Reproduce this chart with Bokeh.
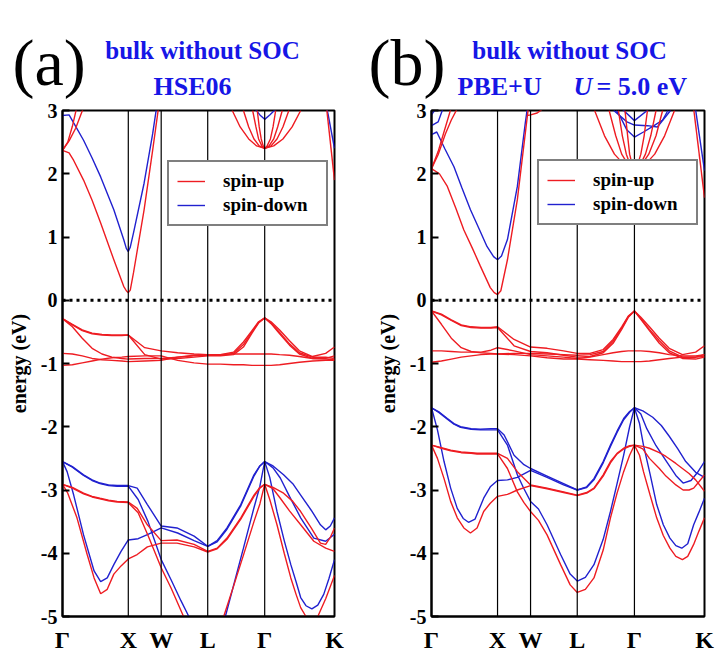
from bokeh.plotting import figure
from bokeh.layouts import row, column
from bokeh.models import Span, Legend, LegendItem, FixedTicker
from bokeh.core.properties import value
from bokeh.embed import file_html
from bokeh.resources import INLINE

# ---------------- data ----------------
PATH_K = [0.0, 1.0, 1.5, 2.207, 3.073, 4.134]
PATH_LABELS = ["Γ", "X", "W", "L", "Γ", "K"]
E_TICKS = [-5, -4, -3, -2, -1, 0, 1, 2, 3]

# common k grid for the flat d bands
K_D = [0.0, 0.15, 0.3, 0.45, 0.6, 0.75, 0.9, 1.0, 1.25, 1.5, 1.75, 2.0, 2.207,
       2.4, 2.6, 2.75, 2.88, 2.98, 3.073, 3.17, 3.3, 3.45, 3.6, 3.8, 4.0, 4.134]

# panel (a) HSE06, spin-up d bands
A_D1 = [-0.29, -0.38, -0.47, -0.52, -0.54, -0.55, -0.55, -0.55, -0.75, -0.80, -0.83, -0.85, -0.86,
        -0.86, -0.82, -0.66, -0.48, -0.34, -0.28, -0.34, -0.47, -0.64, -0.80, -0.89, -0.84, -0.74]
A_D2 = [-0.29, -0.42, -0.60, -0.76, -0.85, -0.90, -0.92, -0.93, -0.92, -0.92, -0.90, -0.88, -0.87,
        -0.87, -0.84, -0.70, -0.50, -0.35, -0.28, -0.37, -0.53, -0.71, -0.85, -0.92, -0.92, -0.88]
A_D3 = [-0.29, -0.39, -0.48, -0.53, -0.55, -0.56, -0.56, -0.55, -0.86, -0.93, -0.92, -0.90, -0.88,
        -0.88, -0.86, -0.74, -0.52, -0.36, -0.28, -0.36, -0.51, -0.69, -0.83, -0.90, -0.90, -0.92]
A_D4 = [-0.84, -0.85, -0.88, -0.92, -0.94, -0.95, -0.96, -0.97, -0.96, -0.95, -0.90, -0.87, -0.86,
        -0.86, -0.85, -0.85, -0.85, -0.85, -0.85, -0.85, -0.86, -0.87, -0.89, -0.92, -0.93, -0.94]
A_D5 = [-1.03, -1.02, -0.99, -0.96, -0.93, -0.91, -0.90, -0.89, -0.88, -0.88, -0.95, -0.99, -1.01,
        -1.01, -1.02, -1.02, -1.03, -1.03, -1.03, -1.03, -1.02, -1.00, -0.98, -0.96, -0.95, -0.95]

# panel (b) PBE+U, spin-up d bands
B_D1 = [-0.17, -0.22, -0.31, -0.39, -0.42, -0.43, -0.43, -0.42, -0.62, -0.74, -0.76, -0.80, -0.84,
        -0.84, -0.78, -0.62, -0.42, -0.25, -0.17, -0.27, -0.42, -0.60, -0.76, -0.86, -0.82, -0.72]
B_D2 = [-0.17, -0.38, -0.60, -0.75, -0.81, -0.83, -0.84, -0.85, -0.84, -0.84, -0.85, -0.86, -0.87,
        -0.86, -0.81, -0.65, -0.44, -0.26, -0.17, -0.30, -0.48, -0.68, -0.83, -0.92, -0.93, -0.90]
B_D3 = [-0.17, -0.23, -0.32, -0.40, -0.43, -0.44, -0.44, -0.43, -0.72, -0.81, -0.83, -0.87, -0.90,
        -0.89, -0.83, -0.68, -0.46, -0.27, -0.17, -0.29, -0.46, -0.64, -0.80, -0.90, -0.90, -0.86]
B_D4 = [-0.80, -0.80, -0.81, -0.82, -0.82, -0.82, -0.79, -0.75, -0.80, -0.86, -0.88, -0.90, -0.92,
        -0.90, -0.86, -0.83, -0.81, -0.80, -0.80, -0.80, -0.81, -0.83, -0.86, -0.88, -0.88, -0.86]
B_D5 = [-0.98, -0.96, -0.93, -0.90, -0.88, -0.86, -0.85, -0.85, -0.86, -0.88, -0.91, -0.93, -0.93,
        -0.94, -0.95, -0.96, -0.97, -0.97, -0.97, -0.97, -0.96, -0.94, -0.92, -0.90, -0.90, -0.89]

# panel (a) spin-down (blue) curves: (k, E)
A_DN = [
    ([0, .15, .32, .45, .57, .7, .83, 1.0, 1.135, 1.29, 1.5, 1.74, 2.0, 2.207, 2.35, 2.5, 2.71, 2.91, 3.0, 3.073,
      3.2, 3.36, 3.5, 3.62, 3.78, 3.92, 4.0, 4.07, 4.134],
     [-2.55, -2.63, -2.76, -2.84, -2.89, -2.92, -2.93, -2.93, -2.97, -3.23, -3.57, -3.6, -3.73, -3.89, -3.8, -3.6,
      -3.23, -2.76, -2.62, -2.55, -2.62, -2.76, -2.9, -3.08, -3.32, -3.55, -3.63, -3.57, -3.44]),
    ([0, .15, .32, .45, .57, .7, .83, 1.0, 1.15, 1.3, 1.5, 1.65, 1.8, 1.92, 2.05, 2.207, 2.35, 2.475, 2.6, 2.75,
      2.91, 3.0, 3.073, 3.15, 3.26, 3.37, 3.47, 3.55, 3.62, 3.7, 3.79, 3.88, 3.97, 4.05, 4.134],
     [-2.55, -2.64, -2.77, -2.85, -2.9, -2.93, -2.94, -2.94, -3.15, -3.5, -4.1, -4.42, -4.75, -5.0, -5.3, -5.5,
      -5.35, -5.0, -4.51, -3.92, -3.28, -2.94, -2.55, -2.8, -3.34, -3.8, -4.18, -4.45, -4.7, -4.83, -4.88, -4.82,
      -4.65, -4.4, -4.1]),
    ([0, .07, .17, .32, .48, .58, .68, .78, .89, 1.0, 1.15, 1.3, 1.5, 1.75, 2.0, 2.207, 2.35, 2.5, 2.71, 2.91, 3.0,
      3.073, 3.2, 3.31, 3.45, 3.62, 3.82, 4.0, 4.134],
     [-2.55, -2.71, -3.08, -3.71, -4.28, -4.45, -4.39, -4.18, -3.97, -3.79, -3.77, -3.7, -3.6, -3.68, -3.8, -3.89,
      -3.82, -3.62, -3.25, -2.78, -2.62, -2.55, -2.65, -2.81, -3.1, -3.44, -3.76, -3.81, -3.7]),
    ([0, .1, .2, .32, .45, .58, .78, .93, .97, 1.0, 1.03, 1.08, 1.24, 1.37, 1.43],
     [2.92, 2.93, 2.75, 2.53, 2.25, 1.95, 1.43, 0.96, 0.82, 0.77, 0.84, 1.07, 1.85, 2.63, 3.05]),
    ([2.93, 3.0, 3.073, 3.15, 3.24], [3.02, 2.93, 2.86, 2.93, 3.02]),
    ([3.98, 4.134], [3.25, 2.4]),
]

# panel (a) spin-up (red) curves
A_UP = [
    ([0, .15, .32, .45, .57, .7, .83, 1.0, 1.135, 1.29, 1.5, 1.74, 2.0, 2.207, 2.35, 2.5, 2.71, 2.91, 3.0, 3.073,
      3.2, 3.36, 3.5, 3.62, 3.78, 3.92, 4.0, 4.07, 4.134],
     [-2.91, -2.96, -3.05, -3.1, -3.13, -3.16, -3.18, -3.19, -3.29, -3.55, -3.8, -3.79, -3.86, -3.97, -3.92, -3.76,
      -3.44, -3.08, -2.96, -2.91, -2.96, -3.05, -3.18, -3.34, -3.6, -3.84, -3.86, -3.75, -3.6]),
    ([0, .15, .32, .45, .57, .7, .83, 1.0, 1.15, 1.3, 1.5, 1.65, 1.84, 2.0, 2.207, 2.35, 2.45, 2.6, 2.75, 2.91, 3.0,
      3.073, 3.15, 3.26, 3.37, 3.47, 3.55, 3.62, 3.7, 3.8, 3.88, 4.0, 4.134],
     [-2.91, -2.97, -3.06, -3.11, -3.14, -3.17, -3.19, -3.2, -3.36, -3.72, -4.23, -4.55, -5.0, -5.35, -5.6, -5.4,
      -5.0, -4.52, -4.03, -3.5, -3.22, -2.91, -3.15, -3.55, -4.0, -4.39, -4.65, -4.86, -5.0, -5.1, -5.0, -4.72,
      -4.35]),
    ([0, .08, .22, .375, .48, .58, .68, .78, .89, 1.0, 1.135, 1.29, 1.5, 1.74, 2.0, 2.207, 2.35, 2.5, 2.71, 2.91,
      3.0, 3.073, 3.2, 3.31, 3.45, 3.62, 3.82, 4.0, 4.134],
     [-2.91, -3.05, -3.44, -4.02, -4.39, -4.64, -4.57, -4.33, -4.2, -4.09, -4.02, -3.9, -3.84, -3.84, -3.9, -3.98,
      -3.93, -3.78, -3.46, -3.1, -2.97, -2.91, -2.98, -3.13, -3.33, -3.55, -3.81, -3.92, -3.97]),
    ([0, .1, .17, .32, .45, .58, .78, .93, .97, 1.0, 1.03, 1.08, 1.24, 1.37, 1.46],
     [2.37, 2.33, 2.21, 1.9, 1.58, 1.22, 0.64, 0.22, 0.15, 0.12, 0.16, 0.44, 1.43, 2.37, 3.05]),
    ([0, .08, .15, .21], [2.37, 2.5, 2.75, 3.02]),
    ([0, .1, .2, .31], [2.37, 2.52, 2.72, 3.02]),
    ([2.58, 2.70, 2.83, 2.95, 3.073, 3.21, 3.35, 3.49, 3.62], [3.0, 2.74, 2.55, 2.44, 2.4, 2.44, 2.55, 2.74, 3.0]),
    ([2.75, 2.83, 2.91, 2.99, 3.073, 3.17, 3.26, 3.35, 3.44], [3.0, 2.74, 2.55, 2.44, 2.4, 2.44, 2.55, 2.74, 3.0]),
    ([2.89, 2.94, 2.98, 3.03, 3.073, 3.14, 3.21, 3.27, 3.34], [3.0, 2.74, 2.55, 2.44, 2.4, 2.44, 2.55, 2.74, 3.0]),
    ([2.96, 2.99, 3.02, 3.05, 3.073, 3.11, 3.16, 3.20, 3.24], [3.0, 2.74, 2.55, 2.44, 2.4, 2.44, 2.55, 2.74, 3.0]),
    ([4.0, 4.134], [3.17, 1.9]),
]

# panel (b) spin-down (blue) curves
B_DN = [
    ([0, .12, .24, .34, .44, .6, .74, .9, 1.0, 1.1, 1.25, 1.4, 1.5, 1.75, 2.0, 2.207, 2.35, 2.46, 2.6, 2.71, 2.81,
      2.91, 3.0, 3.073, 3.2, 3.35, 3.48, 3.6, 3.73, 3.85, 4.0, 4.134],
     [-1.70, -1.77, -1.87, -1.95, -2.0, -2.03, -2.04, -2.03, -2.03, -2.13, -2.45, -2.6, -2.66, -2.78, -2.9, -3.0,
      -2.95, -2.82, -2.55, -2.29, -2.07, -1.87, -1.76, -1.70, -1.75, -1.85, -1.98, -2.15, -2.35, -2.55, -2.72,
      -2.8]),
    ([0, .12, .24, .34, .44, .6, .74, .9, 1.0, 1.15, 1.3, 1.4, 1.5, 1.62, 1.75, 1.955, 2.1, 2.207, 2.33, 2.46, 2.6,
      2.71, 2.81, 2.91, 3.0, 3.073, 3.15, 3.21, 3.31, 3.41, 3.51, 3.61, 3.7, 3.79, 3.88, 3.97, 4.05, 4.134],
     [-1.70, -1.78, -1.88, -1.96, -2.01, -2.04, -2.05, -2.05, -2.05, -2.29, -2.76, -2.98, -3.18, -3.3, -3.55,
      -4.02, -4.33, -4.44, -4.38, -4.18, -3.78, -3.34, -2.9, -2.45, -2.0, -1.70, -1.95, -2.29, -2.75, -3.23,
      -3.55, -3.76, -3.88, -3.92, -3.85, -3.55, -3.35, -3.13]),
    ([0, .09, .19, .29, .39, .48, .56, .66, .79, .89, 1.0, 1.15, 1.3, 1.5, 1.75, 2.0, 2.207, 2.35, 2.46, 2.6, 2.71,
      2.81, 2.91, 3.0, 3.073, 3.17, 3.26, 3.4, 3.56, 3.7, 3.81, 3.93, 4.03, 4.134],
     [-1.70, -2.05, -2.55, -2.97, -3.29, -3.45, -3.51, -3.46, -3.13, -2.95, -2.85, -2.84, -2.8, -2.69, -2.8,
      -2.92, -3.0, -2.96, -2.84, -2.57, -2.31, -2.09, -1.89, -1.77, -1.70, -1.8, -2.03, -2.3, -2.55, -2.77, -2.89,
      -2.85, -2.72, -2.55]),
    ([0, .08, .2, .34, .46, .59, .72, .84, .94, 1.0, 1.06, 1.15, 1.3, 1.42, 1.46],
     [2.62, 2.66, 2.4, 2.11, 1.78, 1.43, 1.13, 0.85, 0.69, 0.64, 0.7, 0.96, 1.8, 2.8, 3.1]),
    ([0, .1, .17], [2.76, 2.82, 3.02]),
    ([0, .06], [2.93, 3.02]),
    ([2.76, 2.96, 3.073, 3.27, 3.42, 3.62], [3.0, 2.82, 2.77, 2.76, 2.74, 3.0]),
    ([2.8, 2.86, 2.96, 3.073, 3.21, 3.37, 3.5, 3.58], [3.0, 2.9, 2.69, 2.58, 2.66, 2.76, 2.85, 3.0]),
    ([2.89, 3.073, 3.29], [3.02, 2.84, 3.02]),
    ([3.98, 4.134], [3.15, 2.05]),
]

# panel (b) spin-up (red) curves
B_UP = [
    ([0, .15, .29, .45, .6, .69, .85, 1.0, 1.15, 1.3, 1.5, 1.75, 2.0, 2.207, 2.35, 2.46, 2.6, 2.71, 2.81, 2.91, 3.0,
      3.073, 3.2, 3.3, 3.45, 3.55, 3.7, 3.8, 3.9, 4.0, 4.134],
     [-2.29, -2.33, -2.37, -2.4, -2.41, -2.42, -2.42, -2.42, -2.5, -2.71, -2.92, -2.97, -3.03, -3.08, -3.04,
      -2.97, -2.76, -2.55, -2.42, -2.34, -2.3, -2.29, -2.31, -2.34, -2.41, -2.47, -2.58, -2.66, -2.74, -2.84,
      -3.02]),
    ([0, .15, .29, .45, .6, .69, .85, 1.0, 1.15, 1.3, 1.4, 1.5, 1.62, 1.75, 1.955, 2.1, 2.207, 2.33, 2.46, 2.6,
      2.71, 2.81, 2.91, 3.0, 3.073, 3.15, 3.21, 3.31, 3.41, 3.51, 3.61, 3.7, 3.8, 3.88, 3.97, 4.05, 4.134],
     [-2.29, -2.34, -2.38, -2.41, -2.42, -2.43, -2.43, -2.43, -2.66, -3.03, -3.2, -3.34, -3.48, -3.71, -4.18,
      -4.5, -4.62, -4.57, -4.39, -3.95, -3.44, -3.05, -2.71, -2.45, -2.29, -2.45, -2.71, -3.08, -3.44, -3.72,
      -3.92, -4.05, -4.1, -4.05, -3.86, -3.65, -3.44]),
    ([0, .09, .19, .29, .39, .49, .59, .69, .79, .89, 1.0, 1.15, 1.3, 1.5, 1.75, 2.0, 2.207, 2.35, 2.46, 2.6, 2.71,
      2.81, 2.91, 3.0, 3.073, 3.2, 3.3, 3.45, 3.55, 3.7, 3.81, 3.9, 3.97, 4.05, 4.134],
     [-2.29, -2.5, -2.82, -3.18, -3.44, -3.6, -3.68, -3.6, -3.34, -3.21, -3.1, -3.07, -3.0, -2.93, -2.98, -3.04,
      -3.09, -3.05, -2.98, -2.78, -2.57, -2.43, -2.35, -2.31, -2.29, -2.35, -2.5, -2.66, -2.78, -2.92, -3.0,
      -3.0, -2.97, -2.87, -2.76]),
    ([0, .12, .24, .37, .49, .62, .74, .89, .95, 1.0, 1.05, 1.15, 1.3, 1.45, 1.5],
     [2.08, 2.0, 1.8, 1.45, 1.11, 0.82, 0.54, 0.2, 0.12, 0.09, 0.15, 0.64, 1.59, 2.9, 3.3]),
    ([0, .1, .21, .3, .4], [2.08, 2.3, 2.63, 2.85, 3.05]),
    ([0, .1, .2, .3], [2.08, 2.35, 2.7, 3.05]),
    ([1.45, 1.5, 1.6, 1.72], [2.92, 2.93, 2.96, 3.05]),
    ([2.47, 2.62, 2.77, 2.92, 3.073, 3.23, 3.38, 3.53, 3.68], [3.0, 2.6, 2.31, 2.14, 2.08, 2.14, 2.31, 2.6, 3.0]),
    ([2.69, 2.79, 2.88, 2.98, 3.073, 3.18, 3.29, 3.40, 3.50], [3.0, 2.6, 2.31, 2.14, 2.08, 2.14, 2.31, 2.6, 3.0]),
    ([2.83, 2.89, 2.95, 3.01, 3.073, 3.16, 3.24, 3.32, 3.40], [3.0, 2.6, 2.31, 2.14, 2.08, 2.14, 2.31, 2.6, 3.0]),
    ([2.93, 2.97, 3.00, 3.04, 3.073, 3.12, 3.17, 3.22, 3.27], [3.0, 2.6, 2.31, 2.14, 2.08, 2.14, 2.31, 2.6, 3.0]),
    ([3.95, 4.134], [3.2, 1.62]),
]

A_D_BANDS = [A_D1, A_D2, A_D3, A_D4, A_D5]
B_D_BANDS = [B_D1, B_D2, B_D3, B_D4, B_D5]

# panel headings
A_HEAD_TEXT = ["(a)", "bulk without SOC", "HSE06"]
B_HEAD_TEXT = ["(b)", "bulk without SOC", "PBE+U", "U", "= 5.0 eV"]

# ---------------- style ----------------
RED = "#ee1c22"
BLUE = "#2121cf"
TBLUE = "#1616e6"
FONT = "Liberation Serif"
PAGE_W = 718
HEAD_H = 100
PLOT_H = 555
BORDER_TOP = 10
FRAME_H = 509


def make_panel(width, left, right, d_bands, up, dn, legend_xy):
    p = figure(width=width, height=PLOT_H, x_range=(PATH_K[0], PATH_K[-1]), y_range=(-5, 3),
               output_backend="svg", toolbar_location=None,
               min_border_left=left, min_border_right=right,
               min_border_top=BORDER_TOP, min_border_bottom=PLOT_H - BORDER_TOP - FRAME_H)
    p.background_fill_color = "white"
    p.border_fill_color = "white"
    p.outline_line_color = "black"
    p.outline_line_width = 2
    p.xgrid.visible = False
    p.ygrid.visible = False

    ya = p.yaxis[0]
    ya.ticker = FixedTicker(ticks=E_TICKS)
    ya.major_label_overrides = {t: str(t) for t in E_TICKS}
    ya.major_label_text_font = FONT
    ya.major_label_text_font_style = "bold"
    ya.major_label_text_font_size = "20px"
    ya.major_label_text_color = "black"
    ya.major_label_standoff = 5
    ya.major_tick_in = 7
    ya.major_tick_out = 0
    ya.major_tick_line_width = 2
    ya.minor_tick_line_color = None
    ya.axis_line_width = 2
    ya.axis_label = "energy (eV)"
    ya.axis_label_text_font = FONT
    ya.axis_label_text_font_style = "bold"
    ya.axis_label_text_font_size = "20px"
    ya.axis_label_text_color = "black"
    ya.axis_label_standoff = 8

    xa = p.xaxis[0]
    xa.ticker = FixedTicker(ticks=PATH_K)
    xa.major_label_overrides = {k: lab for k, lab in zip(PATH_K, PATH_LABELS)}
    xa.major_label_text_font = FONT
    xa.major_label_text_font_style = "bold"
    xa.major_label_text_font_size = "24px"
    xa.major_label_text_color = "black"
    xa.major_label_standoff = 10
    xa.major_tick_in = 0
    xa.major_tick_out = 0
    xa.major_tick_line_color = None
    xa.minor_tick_line_color = None
    xa.axis_line_width = 2

    for k in PATH_K[1:-1]:
        p.add_layout(Span(location=k, dimension="height", line_color="black", line_width=1.2))
    p.add_layout(Span(location=0, dimension="width", line_color="black", line_width=3,
                      line_dash="3 4"))

    r_dn = p.multi_line([c[0] for c in dn], [c[1] for c in dn], line_color=BLUE, line_width=1.4)
    r_up = p.multi_line([K_D] * len(d_bands) + [c[0] for c in up],
                        d_bands + [c[1] for c in up], line_color=RED, line_width=1.4)

    leg = Legend(items=[LegendItem(label="spin-up", renderers=[r_up]),
                        LegendItem(label="spin-down", renderers=[r_dn])],
                 location=legend_xy, padding=8, margin=0, spacing=2,
                 glyph_width=28, glyph_height=22, label_height=22, label_width=95,
                 label_standoff=18, border_line_color="black", border_line_width=2,
                 background_fill_alpha=1.0, label_text_font=FONT, label_text_color="black",
                 label_text_font_style="bold", label_text_font_size="19px")
    p.add_layout(leg, "center")
    return p


def head_text(h, x, y, txt, size, color, style="bold", align="left"):
    h.text(x=[x], y=[y], text=[txt], text_align=align, text_baseline="alphabetic",
           text_font=value(FONT), text_font_style=value(style), text_font_size=value(size),
           text_color=color)


pa = make_panel(360, 62, 26, A_D_BANDS, A_UP, A_DN, (105, 390))
pb = make_panel(358, 71, 14, B_D_BANDS, B_UP, B_DN, (106, 391))

head = figure(width=PAGE_W, height=HEAD_H, x_range=(0, PAGE_W), y_range=(HEAD_H, 0),
              output_backend="svg", toolbar_location=None, x_axis_type=None, y_axis_type=None,
              min_border=0, min_border_left=0, min_border_right=0, min_border_top=0,
              min_border_bottom=0)
head.outline_line_color = None
head.xgrid.visible = False
head.ygrid.visible = False
head.background_fill_color = "white"
head.border_fill_color = "white"

head_text(head, 12, 62, A_HEAD_TEXT[0], "66px", "black", style="normal")
head_text(head, 202, 50, A_HEAD_TEXT[1], "25px", TBLUE, align="center")
head_text(head, 192, 86, A_HEAD_TEXT[2], "26px", TBLUE, align="center")

head_text(head, 368, 62, B_HEAD_TEXT[0], "66px", "black", style="normal")
head_text(head, 569, 50, B_HEAD_TEXT[1], "25px", TBLUE, align="center")
head_text(head, 457, 86, B_HEAD_TEXT[2], "26px", TBLUE)
head_text(head, 573, 86, B_HEAD_TEXT[3], "26px", TBLUE, style="bold italic")
head_text(head, 596, 86, B_HEAD_TEXT[4], "26px", TBLUE)

layout = column(head, row(pa, pb, spacing=0), spacing=0)
open("out.html", "w").write(file_html(layout, INLINE))
